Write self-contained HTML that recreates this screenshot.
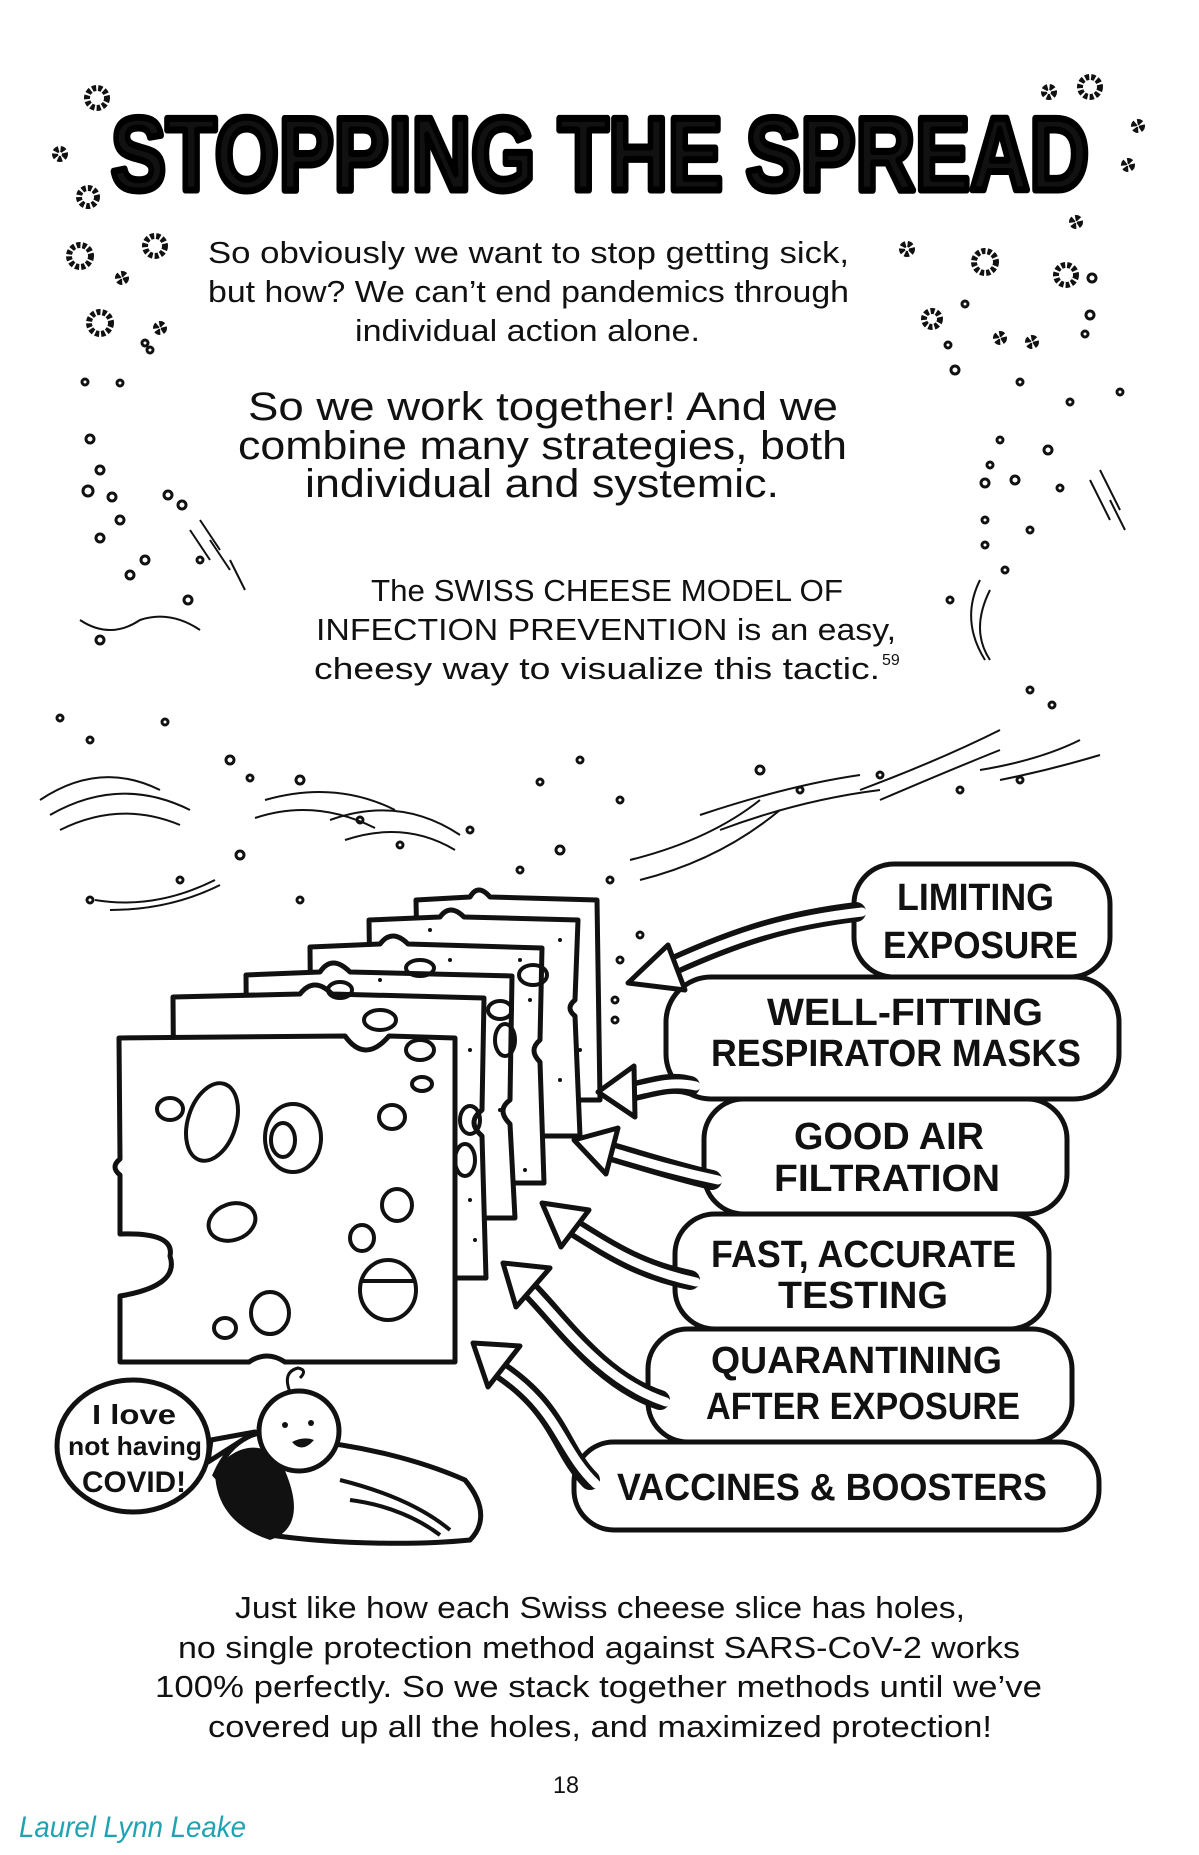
<!DOCTYPE html>
<html><head><meta charset="utf-8"><style>
html,body{margin:0;padding:0;background:#fff}
svg{display:block}
.t{font-family:"Liberation Sans",sans-serif;fill:#111}
.b{font-family:"Liberation Sans",sans-serif;font-weight:bold;fill:#111}
</style></head><body>
<svg width="1199" height="1855" viewBox="0 0 1199 1855" xmlns="http://www.w3.org/2000/svg">
<rect width="1199" height="1855" fill="#fff"/>
<text x="111" y="190" class="b" font-size="104" font-weight="900" stroke="#000" stroke-width="7" stroke-linejoin="round" textLength="978" lengthAdjust="spacingAndGlyphs">STOPPING THE SPREAD</text>
<g fill="#fff" stroke="#111" stroke-width="6" stroke-dasharray="4 2">
<circle cx="97" cy="98" r="10"/><circle cx="60" cy="154" r="5"/><circle cx="88" cy="197" r="9"/>
<circle cx="1049" cy="92" r="5"/><circle cx="1090" cy="87" r="10"/><circle cx="1138" cy="126" r="4"/><circle cx="1128" cy="165" r="4"/>
<circle cx="80" cy="256" r="11"/><circle cx="155" cy="246" r="10"/><circle cx="122" cy="278" r="4"/><circle cx="100" cy="323" r="11"/><circle cx="160" cy="328" r="4"/>
<circle cx="1076" cy="222" r="4"/><circle cx="907" cy="249" r="5"/><circle cx="985" cy="262" r="11"/><circle cx="1066" cy="275" r="10"/><circle cx="932" cy="319" r="8"/><circle cx="1000" cy="338" r="4"/><circle cx="1032" cy="342" r="4"/>
</g>
<g fill="none" stroke="#111" stroke-width="3">
<circle cx="1092" cy="278" r="4"/><circle cx="1090" cy="315" r="4"/><circle cx="965" cy="304" r="3"/><circle cx="1085" cy="334" r="3"/><circle cx="948" cy="345" r="3"/><circle cx="145" cy="343" r="3"/><circle cx="150" cy="350" r="3"/>
<circle cx="85" cy="382" r="3"/><circle cx="120" cy="383" r="3"/><circle cx="90" cy="439" r="4"/><circle cx="100" cy="470" r="4"/><circle cx="88" cy="491" r="5"/><circle cx="112" cy="497" r="4"/><circle cx="120" cy="520" r="4"/><circle cx="168" cy="495" r="4"/><circle cx="182" cy="505" r="4"/><circle cx="100" cy="538" r="4"/><circle cx="145" cy="560" r="4"/><circle cx="130" cy="575" r="4"/><circle cx="200" cy="560" r="3"/><circle cx="188" cy="600" r="4"/><circle cx="100" cy="640" r="4"/>
<circle cx="955" cy="370" r="4"/><circle cx="1020" cy="382" r="3"/><circle cx="1120" cy="392" r="3"/><circle cx="1070" cy="402" r="3"/><circle cx="1000" cy="440" r="3"/><circle cx="1048" cy="450" r="4"/><circle cx="990" cy="465" r="3"/><circle cx="1015" cy="480" r="4"/><circle cx="985" cy="483" r="4"/><circle cx="1060" cy="488" r="3"/><circle cx="985" cy="520" r="3"/><circle cx="1030" cy="530" r="3"/><circle cx="985" cy="545" r="3"/><circle cx="1005" cy="570" r="3"/><circle cx="950" cy="600" r="3"/><circle cx="1030" cy="690" r="3"/><circle cx="1052" cy="705" r="3"/>
<circle cx="60" cy="718" r="3"/><circle cx="90" cy="740" r="3"/><circle cx="165" cy="722" r="3"/><circle cx="230" cy="760" r="4"/><circle cx="250" cy="778" r="3"/><circle cx="300" cy="780" r="4"/><circle cx="360" cy="820" r="3"/><circle cx="540" cy="782" r="3"/><circle cx="580" cy="760" r="3"/><circle cx="620" cy="800" r="3"/><circle cx="760" cy="770" r="4"/><circle cx="800" cy="790" r="3"/><circle cx="880" cy="775" r="3"/><circle cx="960" cy="790" r="3"/><circle cx="1020" cy="780" r="3"/>
<circle cx="180" cy="880" r="3"/><circle cx="240" cy="855" r="4"/><circle cx="300" cy="900" r="3"/><circle cx="400" cy="845" r="3"/><circle cx="470" cy="830" r="3"/><circle cx="520" cy="870" r="3"/><circle cx="560" cy="850" r="4"/><circle cx="610" cy="880" r="3"/><circle cx="640" cy="935" r="3"/><circle cx="620" cy="960" r="3"/><circle cx="615" cy="1000" r="3"/><circle cx="615" cy="1020" r="3"/><circle cx="90" cy="900" r="3"/>
</g>
<g fill="none" stroke="#111" stroke-width="2">
<path d="M40,800 q60,-40 120,-10 M50,815 q70,-40 140,-5 M60,830 q60,-30 120,-5"/>
<path d="M95,900 q60,10 120,-20 M110,910 q60,0 110,-25"/>
<path d="M265,800 q70,-20 130,10 M255,818 q60,-20 120,10"/>
<path d="M330,820 q70,-25 130,15 M345,840 q60,-20 110,10"/>
<path d="M630,860 q80,-20 130,-60 M640,880 q80,-20 140,-70"/>
<path d="M700,815 q90,-30 160,-40 M720,830 q80,-30 160,-40"/>
<path d="M860,790 q80,-30 140,-60 M880,800 q70,-30 120,-50"/>
<path d="M980,770 q60,-10 100,-30 M1000,780 q50,-10 100,-25"/>
<path d="M190,530 l20,30 M200,520 l20,30 M210,540 l20,30 M230,560 l15,30"/>
<path d="M1090,480 l20,40 M1100,470 l20,40 M1110,500 l15,30"/>
<path d="M980,580 q-20,40 5,80 M990,590 q-20,40 0,70"/>
<path d="M80,620 q30,20 60,0 q30,-10 60,10"/>
</g>
<g class="t">
<text x="208" y="263" font-size="31" textLength="641" lengthAdjust="spacingAndGlyphs">So obviously we want to stop getting sick,</text>
<text x="208" y="302" font-size="31" textLength="641" lengthAdjust="spacingAndGlyphs">but how? We can’t end pandemics through</text>
<text x="355" y="341" font-size="31" textLength="345" lengthAdjust="spacingAndGlyphs">individual action alone.</text>
<text x="248" y="420" font-size="40" textLength="590" lengthAdjust="spacingAndGlyphs">So we work together! And we</text>
<text x="238" y="459" font-size="40" textLength="609" lengthAdjust="spacingAndGlyphs">combine many strategies, both</text>
<text x="305" y="497" font-size="40" textLength="474" lengthAdjust="spacingAndGlyphs">individual and systemic.</text>
<text x="371" y="601" font-size="31" textLength="472" lengthAdjust="spacingAndGlyphs">The SWISS CHEESE MODEL OF</text>
<text x="316" y="640" font-size="31" textLength="580" lengthAdjust="spacingAndGlyphs">INFECTION PREVENTION is an easy,</text>
<text x="314" y="679" font-size="31" textLength="566" lengthAdjust="spacingAndGlyphs">cheesy way to visualize this tactic.</text>
<text x="882" y="665" font-size="16">59</text>
<text x="235" y="1618" font-size="31" textLength="730" lengthAdjust="spacingAndGlyphs">Just like how each Swiss cheese slice has holes,</text>
<text x="178" y="1658" font-size="31" textLength="842" lengthAdjust="spacingAndGlyphs">no single protection method against SARS-CoV-2 works</text>
<text x="155" y="1697" font-size="31" textLength="887" lengthAdjust="spacingAndGlyphs">100% perfectly. So we stack together methods until we’ve</text>
<text x="208" y="1737" font-size="31" textLength="784" lengthAdjust="spacingAndGlyphs">covered up all the holes, and maximized protection!</text>
<text x="553" y="1793" font-size="24" textLength="26" lengthAdjust="spacingAndGlyphs">18</text>
</g>
<text x="19" y="1837" font-family="Liberation Sans,sans-serif" font-style="italic" font-size="30" fill="#1fa3b3" textLength="227" lengthAdjust="spacingAndGlyphs">Laurel Lynn Leake</text>

<g stroke="#111" stroke-width="5" fill="#fff" stroke-linejoin="round">
<path d="M416,900 L470,897 q8,-14 20,0 L597,900 L600,1100 L420,1100 Z"/>
<path d="M369,920 L440,917 q10,-14 24,0 L578,920 L575,1000 q-10,8 0,16 L580,1136 L372,1136 Z"/>
<path d="M310,947 L380,944 q12,-16 28,0 L542,948 L540,1040 q-12,10 0,22 L544,1183 L312,1183 Z"/>
<path d="M246,975 L320,972 q12,-18 30,0 L512,976 L510,1100 q-14,10 0,24 L515,1218 L248,1218 Z"/>
<path d="M173,997 L300,994 q14,-18 32,0 L484,998 L482,1110 q-16,12 0,26 L486,1278 L175,1278 Z"/>
<path d="M119,1038 L345,1036 q20,28 44,0 L455,1038 L455,1362 L285,1362 q-18,-12 -36,0 L120,1362 L120,1296 q60,-10 50,-40 q5,-24 -50,-22 L120,1175 q-10,-8 0,-16 Z"/>
</g>
<g fill="#111">
<circle cx="430" cy="930" r="2"/><circle cx="450" cy="960" r="2"/><circle cx="560" cy="940" r="2"/><circle cx="580" cy="1050" r="2"/><circle cx="560" cy="1080" r="2"/><circle cx="520" cy="960" r="2"/><circle cx="530" cy="1000" r="2"/><circle cx="500" cy="1110" r="2"/><circle cx="525" cy="1170" r="2"/><circle cx="470" cy="1050" r="2"/><circle cx="380" cy="980" r="2"/><circle cx="470" cy="1200" r="2"/><circle cx="475" cy="1240" r="2"/>
</g>
<g fill="none" stroke="#111" stroke-width="4">
<ellipse cx="533" cy="975" rx="14" ry="10"/><ellipse cx="505" cy="1040" rx="10" ry="16"/><ellipse cx="500" cy="1010" rx="12" ry="9"/><ellipse cx="420" cy="968" rx="14" ry="8"/><ellipse cx="340" cy="990" rx="12" ry="8"/><ellipse cx="380" cy="1020" rx="16" ry="10"/><ellipse cx="420" cy="1050" rx="14" ry="10"/><ellipse cx="470" cy="1120" rx="10" ry="14"/><ellipse cx="465" cy="1160" rx="10" ry="16"/>
<ellipse cx="170" cy="1109" rx="13" ry="11"/>
<ellipse cx="212" cy="1122" rx="24" ry="40" transform="rotate(18 212 1122)"/>
<ellipse cx="293" cy="1138" rx="28" ry="34"/><ellipse cx="283" cy="1140" rx="12" ry="17"/>
<ellipse cx="422" cy="1084" rx="10" ry="7"/><ellipse cx="392" cy="1117" rx="13" ry="12"/>
<ellipse cx="232" cy="1222" rx="24" ry="18" transform="rotate(-20 232 1222)"/>
<ellipse cx="397" cy="1205" rx="15" ry="16"/><ellipse cx="362" cy="1238" rx="12" ry="13"/>
<ellipse cx="388" cy="1290" rx="28" ry="30"/><line x1="362" y1="1281" x2="414" y2="1281"/>
<ellipse cx="270" cy="1313" rx="19" ry="21"/><ellipse cx="225" cy="1328" rx="11" ry="10"/>
</g>

<g stroke="#111" stroke-width="5" fill="#fff">
<rect x="574" y="1442" width="525" height="88" rx="40"/>
<rect x="648" y="1329" width="424" height="113" rx="40"/>
<rect x="675" y="1214" width="374" height="115" rx="40"/>
<rect x="704" y="1099" width="363" height="115" rx="40"/>
<rect x="666" y="977" width="453" height="122" rx="45"/>
<rect x="854" y="864" width="256" height="113" rx="40"/>
</g>
<g fill="none" stroke-linecap="round">
<g stroke="#111" stroke-width="20">
<path d="M856,912 C790,920 740,935 672,966"/>
<path d="M690,1086 C670,1080 650,1088 630,1092"/>
<path d="M712,1180 C670,1170 640,1160 605,1150"/>
<path d="M690,1280 C640,1270 610,1250 570,1225"/>
<path d="M660,1400 C600,1380 560,1320 530,1290"/>
<path d="M590,1480 C560,1450 560,1410 500,1370"/>
</g>
<g stroke="#fff" stroke-width="9">
<path d="M862,912 C790,920 740,935 672,966"/>
<path d="M696,1086 C670,1080 650,1088 630,1092"/>
<path d="M718,1180 C670,1170 640,1160 605,1150"/>
<path d="M696,1282 C640,1270 610,1250 570,1225"/>
<path d="M666,1402 C600,1380 560,1320 530,1290"/>
<path d="M596,1484 C560,1450 560,1410 500,1370"/>
</g>
</g>
<g fill="#fff" stroke="#111" stroke-width="5" stroke-linejoin="round">
<polygon points="628,983 668,945 685,990"/>
<polygon points="598,1092 634,1066 635,1117"/>
<polygon points="574,1140 618,1128 606,1174"/>
<polygon points="542,1203 589,1210 561,1247"/>
<polygon points="503,1263 550,1268 516,1307"/>
<polygon points="473,1343 520,1346 488,1387"/>
</g>
<g class="b">
<text x="897" y="910" font-size="38" textLength="157" lengthAdjust="spacingAndGlyphs">LIMITING</text>
<text x="883" y="958" font-size="38" textLength="195" lengthAdjust="spacingAndGlyphs">EXPOSURE</text>
<text x="767" y="1025" font-size="38" textLength="276" lengthAdjust="spacingAndGlyphs">WELL-FITTING</text>
<text x="711" y="1066" font-size="38" textLength="370" lengthAdjust="spacingAndGlyphs">RESPIRATOR MASKS</text>
<text x="794" y="1149" font-size="38" textLength="190" lengthAdjust="spacingAndGlyphs">GOOD AIR</text>
<text x="774" y="1191" font-size="38" textLength="226" lengthAdjust="spacingAndGlyphs">FILTRATION</text>
<text x="711" y="1267" font-size="38" textLength="305" lengthAdjust="spacingAndGlyphs">FAST, ACCURATE</text>
<text x="778" y="1308" font-size="38" textLength="170" lengthAdjust="spacingAndGlyphs">TESTING</text>
<text x="711" y="1373" font-size="38" textLength="291" lengthAdjust="spacingAndGlyphs">QUARANTINING</text>
<text x="706" y="1419" font-size="38" textLength="314" lengthAdjust="spacingAndGlyphs">AFTER EXPOSURE</text>
<text x="617" y="1500" font-size="38" textLength="430" lengthAdjust="spacingAndGlyphs">VACCINES &amp; BOOSTERS</text>
</g>

<path d="M215,1475 C230,1440 260,1420 300,1440 C360,1445 420,1460 465,1480 C490,1510 480,1530 470,1540 C420,1545 340,1545 270,1535 Z" fill="#fff" stroke="#111" stroke-width="5"/>
<path d="M215,1470 C235,1445 260,1440 280,1460 C300,1500 300,1530 270,1540 C240,1530 215,1510 215,1470 Z" fill="#111"/>
<path d="M340,1480 C380,1490 420,1505 450,1530 M350,1500 C390,1505 420,1520 440,1535" fill="none" stroke="#111" stroke-width="4"/>
<circle cx="299" cy="1431" r="40" fill="#fff" stroke="#111" stroke-width="5"/>
<path d="M290,1392 q-8,-20 8,-24 q10,2 2,10" fill="none" stroke="#111" stroke-width="3"/>
<circle cx="285" cy="1425" r="3" fill="#111"/><circle cx="311" cy="1423" r="3" fill="#111"/>
<path d="M292,1442 q10,12 22,-2 q-10,-4 -22,2 Z" fill="#111"/>
<path d="M211,1440 L255,1432 L208,1462 Z" fill="#fff" stroke="#111" stroke-width="5" stroke-linejoin="round"/>
<ellipse cx="133" cy="1446" rx="76" ry="66" fill="#fff" stroke="#111" stroke-width="5"/>
<g class="b">
<text x="92" y="1424" font-size="28" textLength="84" lengthAdjust="spacingAndGlyphs">I love</text>
<text x="68" y="1455" font-size="26" textLength="134" lengthAdjust="spacingAndGlyphs">not having</text>
<text x="82" y="1492" font-size="30" textLength="104" lengthAdjust="spacingAndGlyphs">COVID!</text>
</g>
</svg>
</body></html>
